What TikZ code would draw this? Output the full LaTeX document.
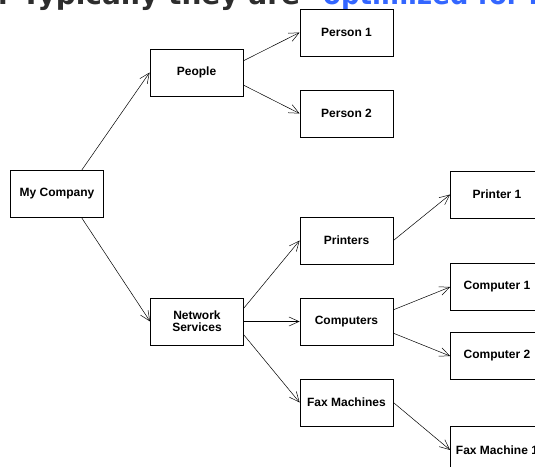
\documentclass[tikz,border=0pt]{standalone}
\usepackage{fontspec}
\setmainfont{Liberation Sans}
\newfontfamily\headfont{DejaVu Sans}
\usetikzlibrary{arrows.meta}
\definecolor{headgray}{RGB}{45,45,45}
\definecolor{headblue}{RGB}{51,102,255}

\begin{document}
\begin{tikzpicture}[x=1pt,y=-1pt,
        box/.style={draw,line width=0.8pt,minimum width=93pt,minimum height=47pt,inner sep=0pt,
            align=center,font=\fontsize{12}{12}\selectfont\bfseries},
        link/.style={line width=0.5pt,-{Straight Barb[length=10pt,width=9pt,line width=0.5pt]}},
        head/.style={anchor=base west,inner sep=0pt,font=\headfont\fontsize{28}{30}\selectfont\bfseries}]
            \useasboundingbox (0,0) rectangle (535,466);
            \clip (0,0) rectangle (535,466);
            % cut-off slide title
            \node[head,text=headgray] (headA) at (-2,4.5) {r Typically they are};
            \node[head,text=headblue,xscale=0.93] (headB) at (323,4.5) {optimized for r};
            % tree
            \node[box] (company) at (57,194) {My Company};
            \node[box] (people) at (196.5,72.5) {People};
            \node[box] (person1) at (346.5,32.5) {Person 1};
            \node[box] (person2) at (346.5,113.5) {Person 2};
            \node[box] (network) at (197,321.5) {Network\\Services};
            \node[box] (printers) at (346.5,240.5) {Printers};
            \node[box] (computers) at (346.5,321.5) {Computers};
            \node[box] (fax) at (346.5,402.5) {Fax Machines};
            \node[box] (printer1) at (497,194.5) {Printer 1};
            \node[box] (computer1) at (497,287) {Computer 1};
            \node[box] (computer2) at (497,356) {Computer 2};
            \node[box] (fax1) at (497,450) {Fax Machine 1};
            \draw[link] (company.44) -- (people.west);
            \draw[link] (company.-44) -- (network.west);
            \draw[link] (people.14) -- (person1.west);
            \draw[link] (people.-15) -- (person2.west);
            \draw[link] (network.16) -- (printers.west);
            \draw[link] (network.east) -- (computers.west);
            \draw[link] (network.-16) -- (fax.west);
            \draw[link] (printers.east) -- (printer1.west);
            \draw[link] (computers.14) -- (computer1.west);
            \draw[link] (computers.-14) -- (computer2.west);
            \draw[link] (fax.east) -- (fax1.west);
        \end{tikzpicture}
\end{document}
